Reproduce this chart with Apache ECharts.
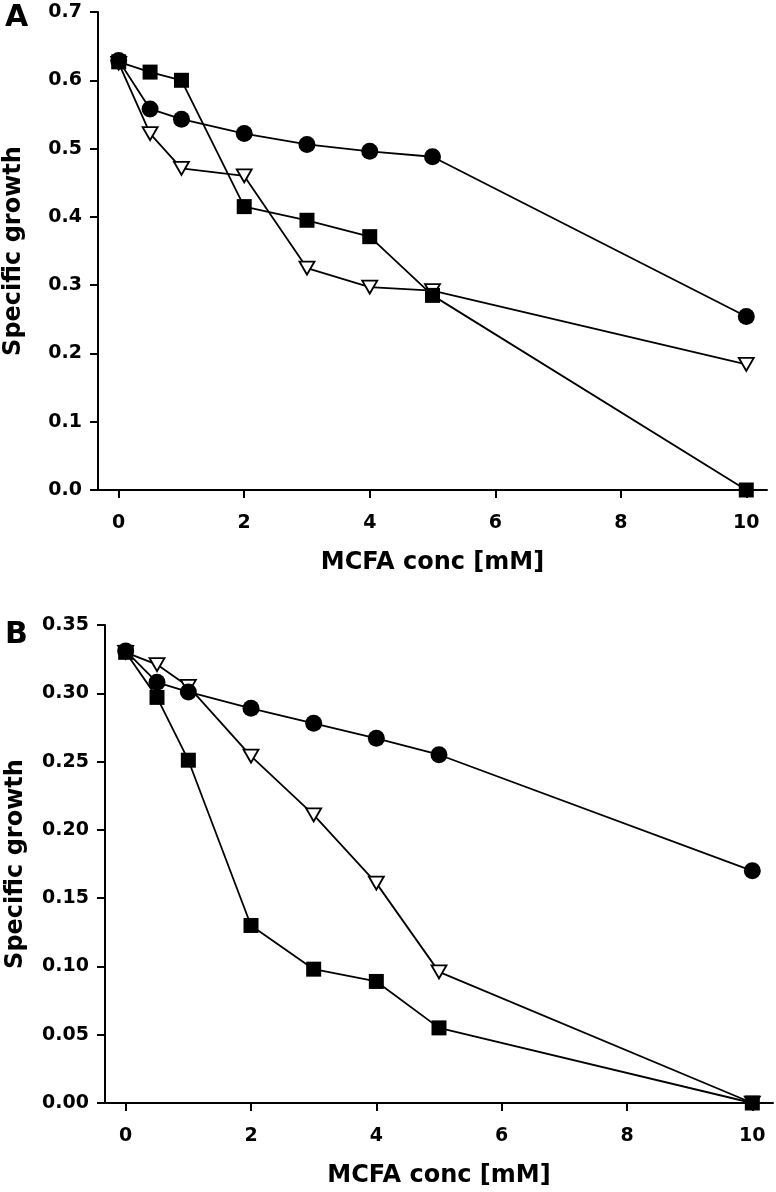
<!DOCTYPE html>
<html>
<head>
<meta charset="utf-8">
<script src="https://cdn.jsdelivr.net/npm/echarts@6/dist/echarts.min.js"></script>
<style>
html,body{margin:0;padding:0;background:#fff;}
#chart{width:776px;height:1192px;}
</style>
</head>
<body>
<div id="chart"></div>
<script>
const conc = [0, 0.5, 1, 2, 3, 4, 5, 10];
const xTicks = [0, 2, 4, 6, 8, 10];

const aCircle   = [0.629, 0.558, 0.543, 0.522, 0.506, 0.496, 0.488, 0.254];
const aSquare   = [0.627, 0.612, 0.600, 0.415, 0.395, 0.371, 0.285, 0.000];
const aTriangle = [0.625, 0.522, 0.471, 0.460, 0.325, 0.297, 0.292, 0.184];

const bCircle   = [0.331, 0.308, 0.301, 0.289, 0.278, 0.267, 0.255, 0.170];
const bSquare   = [0.330, 0.297, 0.251, 0.130, 0.098, 0.089, 0.055, 0.000];
const bTriangle = [0.330, 0.321, 0.305, 0.254, 0.211, 0.161, 0.096, 0.000];

const FONT = '"DejaVu Sans", Arial, sans-serif';
const pair = ys => conc.map((x, i) => [x, ys[i]]);

function xAxis(gi) {
  return {
    gridIndex: gi, type: 'value', min: -0.33, max: 10.33,
    name: 'MCFA conc [mM]', nameLocation: 'middle', nameGap: 61,
    nameTextStyle: {fontFamily: FONT, fontWeight: 'bold', fontSize: 24, color: '#000'},
    axisLine: {onZero: false, lineStyle: {color: '#000', width: 2}},
    axisTick: {show: true, length: 8, lineStyle: {color: '#000', width: 2}, customValues: xTicks},
    axisLabel: {fontFamily: FONT, fontWeight: 'bold', fontSize: 19, color: '#000', margin: 24, customValues: xTicks},
    splitLine: {show: false}
  };
}
function yAxis(gi, max, interval, dec, gap) {
  return {
    gridIndex: gi, type: 'value', min: 0, max: max, interval: interval,
    name: 'Specific growth', nameLocation: 'middle', nameGap: gap,
    nameTextStyle: {fontFamily: FONT, fontWeight: 'bold', fontSize: 24, color: '#000'},
    axisLine: {show: true, onZero: false, lineStyle: {color: '#000', width: 2}},
    axisTick: {show: true, length: 8, lineStyle: {color: '#000', width: 2}},
    axisLabel: {fontFamily: FONT, fontWeight: 'bold', fontSize: 19, color: '#000', margin: 16,
      formatter: v => v.toFixed(dec)},
    splitLine: {show: false}
  };
}
function ser(gi, data, kind) {
  const s = {
    type: 'line', xAxisIndex: gi, yAxisIndex: gi, data: pair(data),
    lineStyle: {color: '#000', width: 1.8}, silent: true, animation: false, z: 3
  };
  if (kind === 'circle') {
    s.symbol = 'circle'; s.symbolSize = 17;
    s.itemStyle = {color: '#000', borderColor: '#000', borderWidth: 0};
  } else if (kind === 'square') {
    s.symbol = 'rect'; s.symbolSize = 15;
    s.itemStyle = {color: '#000', borderColor: '#000', borderWidth: 0};
  } else {
    s.symbol = 'triangle'; s.symbolSize = [15, 13]; s.symbolRotate = 180;
    s.itemStyle = {color: '#fff', borderColor: '#000', borderWidth: 1.8};
  }
  return s;
}

const chart = echarts.init(document.getElementById('chart'), null, {renderer: 'canvas'});
chart.setOption({
  backgroundColor: '#fff',
  animation: false,
  title: [
    {text: 'A', left: 0, top: -2, textStyle: {fontFamily: FONT, fontWeight: 'bold', fontSize: 30, color: '#000'}},
    {text: 'B', left: 0, top: 615, textStyle: {fontFamily: FONT, fontWeight: 'bold', fontSize: 30, color: '#000'}}
  ],
  grid: [
    {left: 98, top: 12, width: 669, height: 478, containLabel: false, outerBoundsMode: 'none'},
    {left: 105, top: 625, width: 668, height: 478, containLabel: false, outerBoundsMode: 'none'}
  ],
  xAxis: [xAxis(0), xAxis(1)],
  yAxis: [yAxis(0, 0.7, 0.1, 1, 72), yAxis(1, 0.35, 0.05, 2, 77)],
  series: [
    ser(0, aTriangle, 'triangle'),
    ser(0, aSquare, 'square'),
    ser(0, aCircle, 'circle'),
    ser(1, bTriangle, 'triangle'),
    ser(1, bSquare, 'square'),
    ser(1, bCircle, 'circle')
  ]
});
</script>
</body>
</html>
